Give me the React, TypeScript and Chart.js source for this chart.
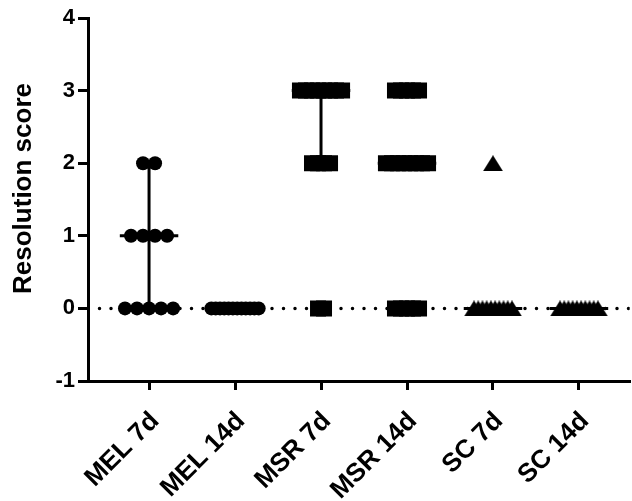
import { useEffect, useRef } from 'react';
import { Chart, registerables } from 'chart.js';
Chart.register(...registerables);

const categories = ['MEL 7d', 'MEL 14d', 'MSR 7d', 'MSR 14d', 'SC 7d', 'SC 14d'];
const mel7d = [0, 0, 0, 0, 0, 1, 1, 1, 1, 2, 2];
const mel14d = [0, 0, 0, 0, 0, 0, 0, 0, 0, 0, 0, 0];
const msr7d = [0, 0, 2, 2, 2, 2, 3, 3, 3, 3, 3, 3, 3, 3];
const msr14d = [0, 0, 0, 0, 0, 2, 2, 2, 2, 2, 2, 2, 2, 3, 3, 3, 3, 3];
const sc7d = [0, 0, 0, 0, 0, 0, 0, 0, 0, 0, 2];
const sc14d = [0, 0, 0, 0, 0, 0, 0, 0, 0, 0];
const medians = [1, 0, 3, 2, 0, 0];
const barLow = [0, 0, 2, 2, 0, 0];
const barHigh = [2, 0, 3, 2, 0, 0];
const yMin = -1;
const yMax = 4;
const yTitle = 'Resolution score';

const FONT = "'Liberation Sans', Arial, sans-serif";

function spread(values: number[], center: number, step: number) {
  const counts = new Map<number, number>();
  values.forEach((v) => counts.set(v, (counts.get(v) || 0) + 1));
  const pts: { x: number; y: number }[] = [];
  counts.forEach((n, v) => {
    for (let k = 0; k < n; k++) pts.push({ x: center + (k - (n - 1) / 2) * step, y: v });
  });
  return pts;
}

const titlePlugin = {
  id: 'yTitle',
  afterDraw(chart: any) {
    const { ctx, chartArea } = chart;
    ctx.save();
    ctx.translate(24, (chartArea.top + chartArea.bottom) / 2 - 11);
    ctx.rotate(-Math.PI / 2);
    ctx.font = `bold 26px ${FONT}`;
    ctx.fillStyle = '#000';
    ctx.textAlign = 'center';
    ctx.textBaseline = 'middle';
    ctx.fillText(yTitle, 0, 0);
    ctx.restore();
  },
};

export default function App() {
  const ref = useRef<HTMLCanvasElement>(null);
  useEffect(() => {
    if (!ref.current) return;
    const tri = document.createElement('canvas');
    tri.width = 20;
    tri.height = 16;
    const tc = tri.getContext('2d')!;
    tc.fillStyle = '#000';
    tc.beginPath();
    tc.moveTo(10, 0);
    tc.lineTo(20, 16);
    tc.lineTo(0, 16);
    tc.closePath();
    tc.fill();

    const groups = [mel7d, mel14d, msr7d, msr14d, sc7d, sc14d];
    const steps = [0.14, 0.05, 0.07, 0.07, 0.049, 0.049];
    const styles: any[] = ['circle', 'circle', 'rect', 'rect', tri, tri];
    const radii = [7, 7, 11.3, 11.3, 10, 10];
    const xMin = 0.29;
    const xMax = 6.59;

    const pointSets = groups.map((g, i) => ({
      data: spread(g, i + 1, steps[i]),
      pointStyle: styles[i],
      pointRadius: radii[i],
      backgroundColor: '#000',
      borderColor: '#000',
      borderWidth: 0,
      showLine: false,
    }));
    const medianSets = medians.map((m, i) => ({
      data: [{ x: i + 1 - 0.34, y: m }, { x: i + 1 + 0.34, y: m }],
      showLine: true,
      borderColor: '#000',
      borderWidth: 3,
      pointRadius: 0,
    }));
    const barSets = barLow.map((lo, i) => ({
      data: [{ x: i + 1, y: lo }, { x: i + 1, y: barHigh[i] }],
      showLine: true,
      borderColor: '#000',
      borderWidth: 3,
      pointRadius: 0,
    }));
    const zeroLine = {
      data: [{ x: xMin, y: 0 }, { x: xMax, y: 0 }],
      showLine: true,
      borderColor: '#000',
      borderWidth: 3.5,
      borderDash: [0, 11.5],
      borderCapStyle: 'round',
      pointRadius: 0,
    };

    const chart = new Chart(ref.current, {
      type: 'scatter',
      data: { datasets: [...pointSets, ...medianSets, ...barSets, zeroLine] as any },
      plugins: [titlePlugin],
      options: {
        animation: false,
        responsive: false,
        devicePixelRatio: 1,
        layout: { padding: { top: 18, right: 2, left: 0, bottom: 0 } },
        plugins: { legend: { display: false }, tooltip: { enabled: false } },
        scales: {
          x: {
            type: 'linear',
            min: xMin,
            max: xMax,
            afterBuildTicks: (s: any) => {
              s.ticks = categories.map((_, i) => ({ value: i + 1 }));
            },
            afterFit: (s: any) => {
              s.height = 120;
            },
            ticks: {
              autoSkip: false,
              maxRotation: 45,
              minRotation: 45,
              color: '#000',
              font: { family: FONT, size: 26, weight: 'bold' },
              padding: 16,
              labelOffset: 6,
              callback: (v: any) => categories[Math.round(v) - 1] ?? '',
            },
            grid: { drawOnChartArea: false, drawTicks: true, tickLength: 9, lineWidth: 3, color: '#000', tickColor: '#000' },
            border: { display: true, color: '#000', width: 3 },
          },
          y: {
            type: 'linear',
            min: yMin,
            max: yMax,
            afterFit: (s: any) => {
              s.width = 88;
            },
            ticks: {
              stepSize: 1,
              color: '#000',
              font: { family: FONT, size: 22, weight: 'bold' },
              padding: 3,
            },
            title: { display: false },
            grid: { drawOnChartArea: false, drawTicks: true, tickLength: 10, lineWidth: 3, color: '#000', tickColor: '#000' },
            border: { display: true, color: '#000', width: 3 },
          },
        },
      } as any,
    });
    return () => chart.destroy();
  }, []);
  return (
    <div style={{ position: 'absolute', left: 0, top: 0, width: 632, height: 501, overflow: 'hidden', background: '#fff' }}>
      <canvas ref={ref} width={641} height={501} style={{ display: 'block' }} />
    </div>
  );
}
